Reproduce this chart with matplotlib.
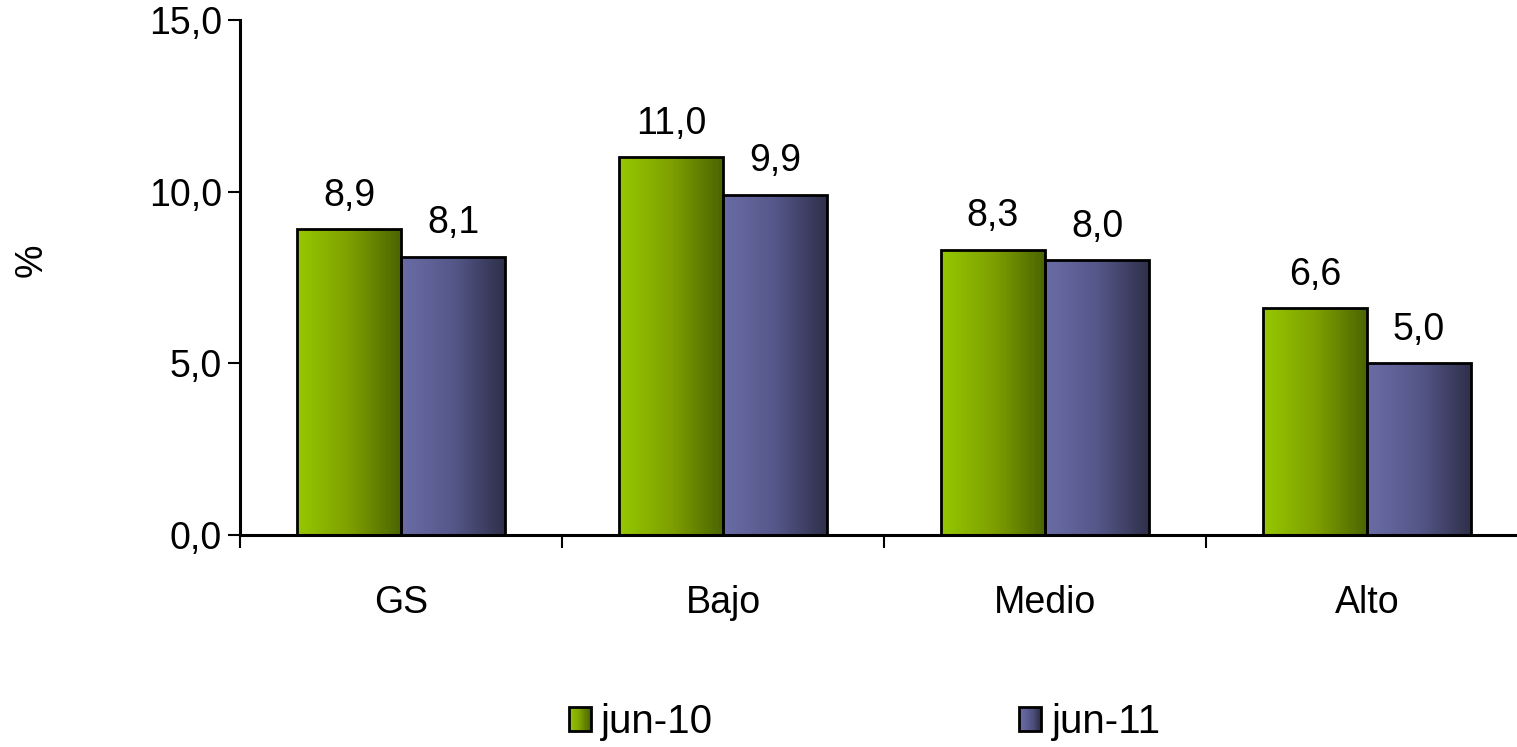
import matplotlib
matplotlib.use("Agg")

import numpy as np
import matplotlib.pyplot as plt
from matplotlib.colors import LinearSegmentedColormap
from matplotlib.patches import Patch, Rectangle
from matplotlib.legend_handler import HandlerBase

categories = ["GS", "Bajo", "Medio", "Alto"]
series_names = ["jun-10", "jun-11"]
values_jun10 = [8.9, 11.0, 8.3, 6.6]
values_jun11 = [8.1, 9.9, 8.0, 5.0]

plt.rcParams["font.family"] = ["Liberation Sans", "DejaVu Sans"]
FS = 27

green_cmap = LinearSegmentedColormap.from_list("g", ["#96c800", "#7ea000", "#4a6400"])
purple_cmap = LinearSegmentedColormap.from_list("p", ["#6a6ca6", "#55578a", "#2e2f48"])


def gradient_bars(ax, x, heights, width, cmap):
    bars = ax.bar(x, heights, width, facecolor="none", edgecolor="black",
                  linewidth=2, zorder=3)
    grad = np.linspace(0, 1, 256).reshape(1, -1)
    for b in bars:
        x0, y0 = b.get_x(), b.get_y()
        im = ax.imshow(grad, cmap=cmap, aspect="auto", zorder=2,
                       extent=[x0, x0 + b.get_width(), y0, y0 + b.get_height()])
        im.set_clip_path(b)
    return bars


class GradientHandler(HandlerBase):
    def __init__(self, cmap):
        super().__init__()
        self.cmap = cmap

    def create_artists(self, legend, orig_handle, xdescent, ydescent,
                       width, height, fontsize, trans):
        n = 20
        artists = []
        for i in range(n):
            r = Rectangle((-xdescent + width * i / n, -ydescent), width / n + 0.3,
                          height, facecolor=self.cmap(i / (n - 1)),
                          edgecolor="none", transform=trans)
            artists.append(r)
        artists.append(Rectangle((-xdescent, -ydescent), width, height,
                                 facecolor="none", edgecolor="black",
                                 linewidth=2, transform=trans))
        return artists


fig = plt.figure(figsize=(15.17, 7.47), dpi=100)
ax = fig.add_axes([240 / 1517, 212 / 747, 1288 / 1517, 515 / 747])

x = np.arange(len(categories))
w = 0.323
b1 = gradient_bars(ax, x - w / 2, values_jun10, w, green_cmap)
b2 = gradient_bars(ax, x + w / 2, values_jun11, w, purple_cmap)

for bars, vals in [(b1, values_jun10), (b2, values_jun11)]:
    for b, v in zip(bars, vals):
        ax.annotate(f"{v:.1f}".replace(".", ","),
                    (b.get_x() + b.get_width() / 2, v),
                    xytext=(0, 17), textcoords="offset points",
                    ha="center", va="baseline", fontsize=FS)

ax.set_xlim(-0.5, len(categories) - 0.5)
ax.set_ylim(0, 15)
ax.set_yticks([0, 5, 10, 15])
ax.set_yticklabels(["0,0", "5,0", "10,0", "15,0"], fontsize=FS)
ax.set_xticks(x)
ax.set_xticklabels(categories, fontsize=FS)
ax.tick_params(axis="x", length=0, pad=36)
ax.set_xticks(np.arange(len(categories) + 1) - 0.5, minor=True)
ax.tick_params(axis="x", which="minor", length=9, width=1.5, direction="out")
ax.tick_params(axis="y", length=9, width=1.5, direction="out", pad=4)
fig.text(32 / 1517, 1 - 260 / 747, "%", rotation=90, fontsize=FS,
         ha="center", va="center")

for s in ["top", "right"]:
    ax.spines[s].set_visible(False)
ax.spines["left"].set_linewidth(2.2)
ax.spines["bottom"].set_linewidth(2.2)
ax.spines["bottom"].set_zorder(4)

h1 = Patch(label=series_names[0])
h2 = Patch(label=series_names[1])
fig.legend([h1, h2], series_names, loc="center", bbox_to_anchor=(0.57, 0.033),
           ncol=2, frameon=False, fontsize=29, handlelength=0.55,
           handleheight=0.55, handletextpad=0.25, columnspacing=7.6,
           borderaxespad=0, borderpad=0,
           handler_map={h1: GradientHandler(green_cmap),
                        h2: GradientHandler(purple_cmap)})

fig.savefig("out.png", dpi=100)
plt.close(fig)
